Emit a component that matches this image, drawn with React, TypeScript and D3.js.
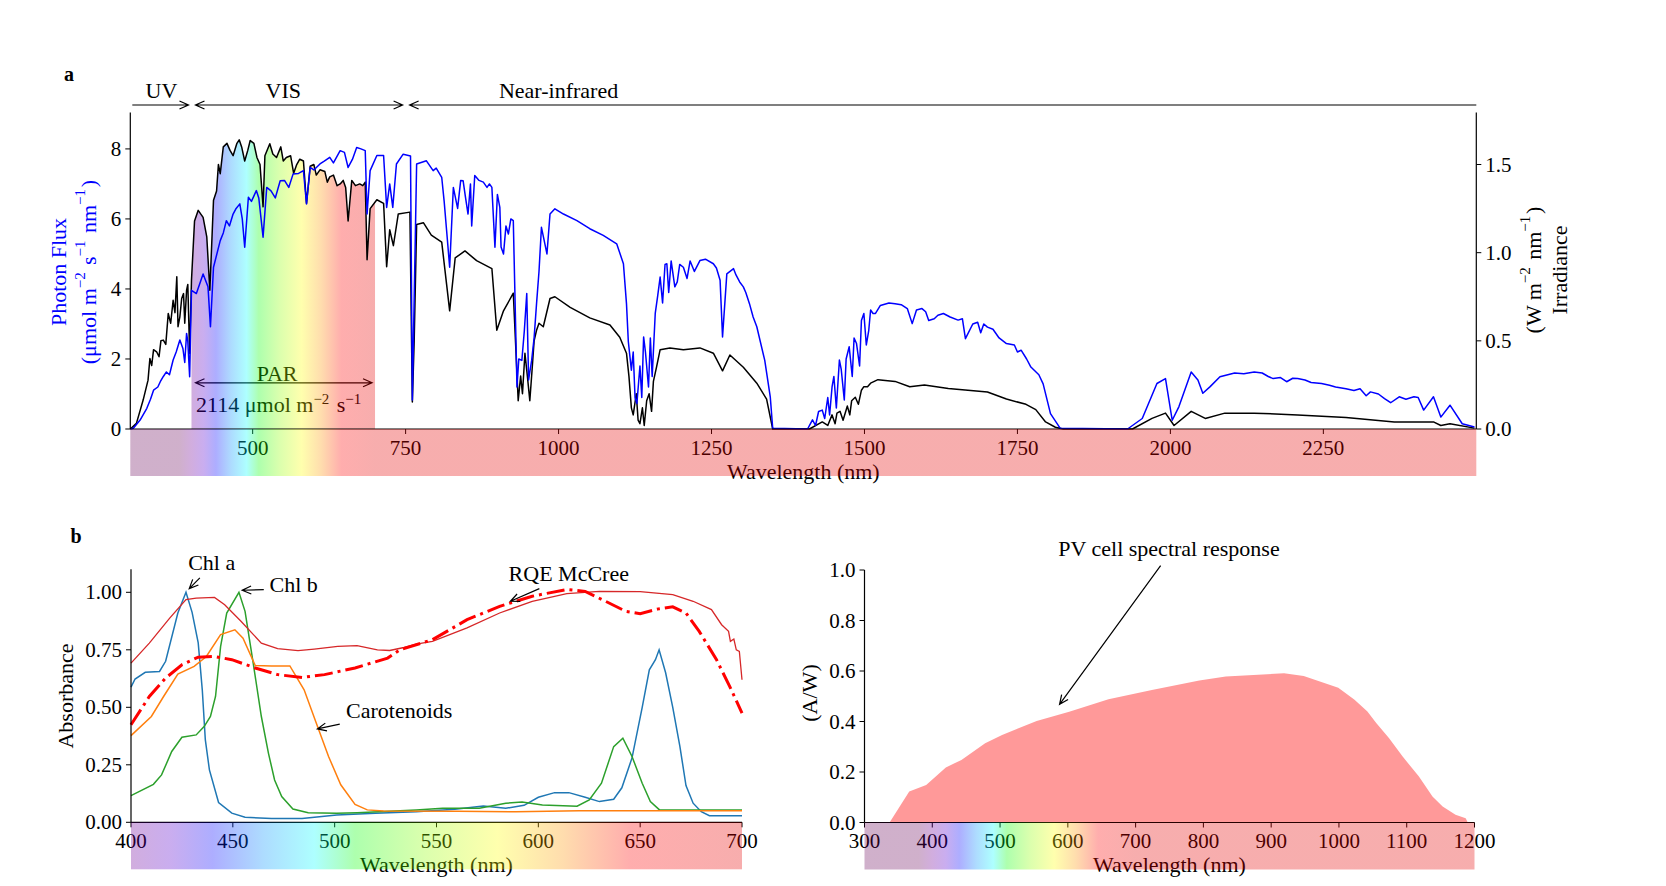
import React from "react";
import * as d3 from "d3";

type P = [number, number];

// ---- panel a: solar spectrum ----
// irradiance, W m-2 nm-1 (right axis)
const irradiance: P[] = [
  [300, 0], [310, 0.032], [321, 0.164], [329, 0.277], [332, 0.4], [335, 0.36], [338, 0.45],
  [343, 0.438], [347, 0.41], [350, 0.5], [354, 0.504], [358, 0.48], [362, 0.655], [366, 0.6],
  [370, 0.73], [373, 0.66], [376, 0.863], [378, 0.58], [381, 0.636], [384, 0.74], [387, 0.768],
  [389, 0.6], [392, 0.787], [394, 0.82], [397, 0.428], [400, 0.844], [405, 1.18], [411, 1.24],
  [419, 1.2], [425, 1.09], [430, 0.787], [436, 1.297], [441, 1.35], [444, 1.5], [447, 1.448],
  [452, 1.6], [458, 1.62], [463, 1.58], [468, 1.55], [474, 1.618], [478, 1.64], [482, 1.6],
  [487, 1.52], [492, 1.58], [496, 1.636], [502, 1.62], [507, 1.54], [512, 1.5], [517, 1.26],
  [520, 1.55], [528, 1.618], [533, 1.56], [539, 1.54], [546, 1.6], [550, 1.52], [555, 1.54],
  [562, 1.55], [567, 1.45], [572, 1.5], [577, 1.53], [583, 1.52], [588, 1.28], [594, 1.49],
  [600, 1.5], [604, 1.44], [610, 1.47], [618, 1.46], [622, 1.4], [626, 1.43], [632, 1.44],
  [638, 1.38], [643, 1.39], [648, 1.41], [652, 1.37], [656, 1.18], [662, 1.41], [668, 1.38],
  [675, 1.39], [680, 1.38], [684, 1.4], [687, 0.96], [692, 1.25], [703, 1.3], [714, 1.28],
  [719, 0.92], [724, 1.13], [730, 1.04], [738, 1.22], [757, 1.23], [761, 0.153], [764, 0.5],
  [768, 1.16], [779, 1.17], [792, 1.1], [809, 1.06], [817, 0.82], [822, 0.67], [831, 0.97],
  [847, 1.01], [866, 0.955], [891, 0.91], [899, 0.56], [910, 0.67], [926, 0.77], [934, 0.16],
  [938, 0.3], [941, 0.2], [945, 0.43], [949, 0.3], [953, 0.16], [957, 0.35], [960, 0.5],
  [964, 0.56], [968, 0.6], [975, 0.58], [986, 0.74], [994, 0.75], [1019, 0.69], [1051, 0.63],
  [1084, 0.59], [1100, 0.52], [1111, 0.43], [1115, 0.3], [1119, 0.12], [1122, 0.08],
  [1127, 0.2], [1130, 0.05], [1133, 0.03], [1137, 0.12], [1140, 0.02], [1144, 0.16],
  [1148, 0.2], [1152, 0.1], [1155, 0.27], [1160, 0.35], [1166, 0.45], [1182, 0.46],
  [1204, 0.45], [1231, 0.46], [1253, 0.43], [1268, 0.33], [1280, 0.42], [1302, 0.35],
  [1324, 0.26], [1340, 0.17], [1350, 0], [1410, 0], [1431, 0.04], [1440, 0.02], [1447, 0.08],
  [1452, 0.03], [1455, 0.09], [1460, 0.1], [1465, 0.05], [1472, 0.13], [1476, 0.08],
  [1479, 0.16], [1485, 0.18], [1490, 0.14], [1495, 0.22], [1499, 0.24], [1505, 0.24],
  [1510, 0.26], [1522, 0.28], [1550, 0.27], [1574, 0.24], [1598, 0.25], [1637, 0.23],
  [1669, 0.22], [1701, 0.21], [1732, 0.17], [1764, 0.14], [1780, 0.11], [1796, 0.04],
  [1812, 0.01], [1825, 0], [1938, 0], [1970, 0.06], [1992, 0.09], [2006, 0.02], [2034, 0.1],
  [2057, 0.06], [2089, 0.09], [2137, 0.09], [2208, 0.08], [2287, 0.065], [2366, 0.04],
  [2430, 0.04], [2442, 0.02], [2457, 0.03], [2497, 0.005],
];

// photon flux, umol m-2 s-1 nm-1 (left axis)
const photonFlux: P[] = [
  [300, 0], [305, 0.02], [316, 0.256], [327, 0.59], [333, 0.85], [338, 1.11], [345, 1.2],
  [349, 1.35], [354, 1.5], [359, 1.63], [364, 1.55], [370, 1.97], [375, 2.2], [381, 2.54],
  [386, 2.3], [389, 1.9], [392, 2.73], [394, 2.5], [397, 1.49], [400, 3.96], [408, 3.87],
  [419, 4.43], [427, 4.06], [431, 2.92], [436, 4.62], [447, 5.38], [452, 5.6], [457, 5.95],
  [462, 5.8], [468, 6.14], [473, 6.3], [479, 6.43], [483, 6.0], [487, 5.19], [493, 6.62],
  [498, 6.5], [506, 6.81], [510, 6.6], [517, 5.48], [523, 6.9], [530, 6.8], [537, 6.6],
  [545, 7.09], [552, 7.1], [559, 6.9], [566, 7.28], [575, 7.3], [583, 7.38], [588, 6.43],
  [594, 7.47], [600, 7.4], [610, 7.57], [617, 7.65], [626, 7.76], [632, 7.6], [643, 7.95],
  [650, 7.9], [656, 7.47], [663, 7.7], [670, 8.04], [677, 8.0], [684, 7.95], [687, 6.14],
  [692, 7.38], [703, 7.81], [714, 7.81], [719, 6.33], [724, 7.0], [729, 6.33], [735, 7.57],
  [746, 7.85], [758, 7.8], [761, 0.83], [768, 7.57], [784, 7.66], [795, 7.38], [800, 7.45],
  [809, 7.19], [813, 6.5], [817, 5.67], [822, 4.62], [828, 6.9], [835, 6.3], [840, 7.1],
  [844, 7.09], [848, 6.6], [852, 6.14], [856, 7.0], [858, 5.8], [863, 7.24], [870, 7.1],
  [877, 7.05], [883, 6.9], [887, 7.0], [891, 6.9], [896, 5.19], [900, 6.7], [904, 6.33],
  [906, 5.2], [910, 5.0], [914, 5.8], [918, 5.57], [922, 6.0], [926, 5.95], [932, 1.2],
  [935, 2.0], [940, 1.96], [944, 2.8], [948, 3.87], [951, 1.4], [956, 1.96], [960, 2.6],
  [964, 3.58], [968, 4.5], [972, 5.76], [981, 5.0], [986, 6.14], [994, 6.29], [1008, 6.14],
  [1030, 5.95], [1051, 5.72], [1073, 5.53], [1095, 5.29], [1106, 4.72], [1111, 3.58],
  [1114, 2.5], [1119, 1.68], [1122, 2.2], [1125, 0.9], [1128, 0.73], [1133, 1.8], [1136, 0.9],
  [1139, 2.63], [1142, 2.2], [1147, 1.2], [1150, 2.6], [1153, 1.5], [1158, 3.3], [1162, 3.8],
  [1166, 4.34], [1170, 3.6], [1174, 4.7], [1177, 4.72], [1180, 3.9], [1184, 4.8], [1190, 4.06],
  [1194, 4.2], [1198, 4.7], [1204, 4.62], [1210, 4.3], [1215, 4.8], [1222, 4.5], [1231, 4.81],
  [1240, 4.85], [1253, 4.72], [1258, 4.6], [1264, 4.25], [1268, 2.63], [1275, 4.43],
  [1286, 4.58], [1290, 4.4], [1296, 4.2], [1302, 4.06], [1306, 3.9], [1312, 3.58],
  [1318, 3.2], [1324, 2.92], [1337, 1.96], [1346, 0.92], [1350, 0.02], [1407, 0], [1415, 0.26],
  [1420, 0.1], [1425, 0.5], [1431, 0.54], [1435, 0.3], [1440, 0.9], [1443, 0.4], [1447, 1.2],
  [1450, 1.5], [1454, 0.6], [1459, 1.97], [1462, 1.7], [1467, 0.83], [1470, 2.0], [1475, 2.35],
  [1480, 1.5], [1483, 2.6], [1487, 2.44], [1492, 1.8], [1495, 3.1], [1499, 3.3], [1503, 2.4],
  [1507, 2.82], [1510, 3.4], [1514, 3.3], [1518, 3.3], [1526, 3.53], [1540, 3.6], [1550, 3.58],
  [1560, 3.55], [1570, 3.44], [1578, 3.01], [1585, 3.4], [1594, 3.44], [1600, 3.35],
  [1605, 3.1], [1614, 3.15], [1620, 3.25], [1629, 3.3], [1640, 3.2], [1653, 3.11],
  [1660, 3.15], [1665, 2.58], [1677, 3.0], [1685, 3.05], [1690, 2.75], [1695, 3.0],
  [1701, 2.91], [1710, 2.85], [1720, 2.6], [1732, 2.44], [1745, 2.4], [1750, 2.2],
  [1756, 2.25], [1765, 2.0], [1772, 1.77], [1785, 1.55], [1792, 1.29], [1804, 0.44],
  [1820, 0.02], [1930, 0], [1954, 0.3], [1978, 1.3], [1992, 1.44], [2003, 0.25], [2014, 0.64],
  [2034, 1.63], [2045, 1.4], [2053, 1.02], [2065, 1.21], [2081, 1.49], [2105, 1.6],
  [2120, 1.58], [2137, 1.63], [2150, 1.6], [2160, 1.5], [2168, 1.44], [2180, 1.47],
  [2190, 1.35], [2200, 1.45], [2208, 1.44], [2220, 1.4], [2230, 1.33], [2247, 1.3],
  [2260, 1.25], [2270, 1.2], [2287, 1.15], [2300, 1.1], [2310, 1.15], [2320, 0.95],
  [2327, 1.06], [2340, 1.0], [2350, 0.87], [2360, 0.75], [2374, 0.92], [2385, 0.85],
  [2398, 0.92], [2405, 0.9], [2414, 0.54], [2430, 0.92], [2442, 0.34], [2457, 0.68],
  [2477, 0.15], [2497, 0.06],
];

const fluxTicks = [0, 2, 4, 6, 8];
const irrTicks = [0, 0.5, 1.0, 1.5];
const wlTicksA = [500, 750, 1000, 1250, 1500, 1750, 2000, 2250];

// ---- panel b: pigment absorbance ----
const chlA: P[] = [
  [400, 0.588], [402, 0.623], [407, 0.652], [414, 0.656], [417, 0.7], [423, 0.91], [427, 1.0],
  [430, 0.913], [433, 0.78], [435, 0.576], [436.5, 0.358], [438.5, 0.228], [443, 0.086],
  [449.5, 0.04], [456, 0.022], [469, 0.016], [484, 0.017], [501, 0.032], [520, 0.039],
  [540, 0.046], [559, 0.057], [573, 0.071], [584, 0.061], [593, 0.074], [600, 0.109],
  [608, 0.129], [615, 0.129], [623, 0.109], [630, 0.09], [637, 0.1], [641, 0.15], [646, 0.28],
  [651, 0.5], [654.5, 0.663], [657.5, 0.707], [659.3, 0.75], [662.5, 0.65], [666, 0.5],
  [669.5, 0.33], [672.5, 0.16], [676, 0.083], [680, 0.046], [684, 0.029], [700, 0.028],
];
const chlB: P[] = [
  [400, 0.116], [411, 0.165], [415, 0.206], [420, 0.308], [425, 0.37], [432, 0.38],
  [436, 0.417], [439, 0.46], [441.5, 0.547], [444, 0.765], [447, 0.91], [453, 1.0],
  [456, 0.917], [460, 0.692], [464, 0.46], [467.5, 0.3], [470.5, 0.184], [474, 0.112],
  [479.5, 0.058], [487, 0.042], [501, 0.039], [511, 0.042], [540, 0.054], [553, 0.061],
  [571, 0.061], [584, 0.083], [592, 0.088], [602, 0.075], [619, 0.07], [625, 0.097],
  [631, 0.17], [637, 0.329], [641.5, 0.366], [646, 0.286], [651, 0.17], [655, 0.09],
  [659.5, 0.054], [700, 0.054],
];
const carotenoids: P[] = [
  [400, 0.377], [410, 0.46], [416, 0.547], [423, 0.644], [431, 0.678], [437, 0.721],
  [444, 0.816], [451, 0.837], [455, 0.8], [461, 0.682], [469, 0.68], [478, 0.68],
  [485, 0.576], [491, 0.431], [497, 0.286], [503, 0.163], [510, 0.078], [516, 0.054],
  [524, 0.049], [560, 0.048], [589, 0.046], [620, 0.05], [660, 0.05], [700, 0.05],
];
const leafAbs: P[] = [
  [400, 0.692], [409, 0.779], [419, 0.888], [427, 0.968], [432, 0.975], [441, 0.978],
  [446, 0.946], [454, 0.874], [464, 0.779], [472, 0.755], [482, 0.746], [490, 0.753],
  [501.5, 0.765], [511, 0.768], [521, 0.75], [527, 0.747], [534, 0.76], [540, 0.775],
  [548, 0.787], [565, 0.845], [581, 0.91], [597, 0.961], [614, 0.994], [630, 1.004],
  [650, 1.003], [666, 0.99], [676, 0.961], [685, 0.925], [690, 0.859], [693.4, 0.83],
  [694.3, 0.787], [696, 0.797], [697.2, 0.75], [698.7, 0.743], [700, 0.62],
];
const rqeMcCree: P[] = [
  [400, 0.424], [409, 0.547], [417, 0.627], [425, 0.685], [433, 0.718], [441, 0.721],
  [449.5, 0.707], [461, 0.671], [472, 0.642], [484, 0.63], [495, 0.642], [510, 0.671],
  [526, 0.714], [532, 0.75], [548, 0.794], [565, 0.881], [581, 0.939], [597, 0.983],
  [614, 1.012], [623, 1.004], [633, 0.961], [643, 0.917], [650, 0.907], [659, 0.928],
  [666, 0.937], [672.5, 0.91], [679, 0.83], [687.5, 0.707], [694, 0.59], [700, 0.475],
];
const absTicks = [0, 0.25, 0.5, 0.75, 1.0];
const wlTicksB = [400, 450, 500, 550, 600, 650, 700];

// ---- panel c: PV cell spectral response (A/W) ----
const pvResponse: P[] = [
  [337, 0], [366, 0.123], [391, 0.149], [420, 0.218], [443, 0.248], [478, 0.314],
  [503, 0.347], [554, 0.402], [602, 0.439], [660, 0.488], [724, 0.525], [794, 0.562],
  [833, 0.578], [919, 0.591], [948, 0.58], [999, 0.534], [1023, 0.486], [1042, 0.44],
  [1055, 0.394], [1074, 0.334], [1094, 0.261], [1118, 0.182], [1138, 0.103], [1153, 0.063],
  [1172, 0.031], [1187, 0.017], [1190, 0],
];
const pvTicks = [0, 0.2, 0.4, 0.6, 0.8, 1.0];
const wlTicksC = [300, 400, 500, 600, 700, 800, 900, 1000, 1100, 1200];

// wavelength -> colour stops for the spectrum strips
const spectrumStops: [number, number[]][] = [
  [300, [0.42, 0.03, 0.36]], [380, [0.42, 0.03, 0.36]], [400, [0.44, 0, 0.6]],
  [420, [0.34, 0, 0.81]], [440, [0, 0, 1]], [465, [0, 0.57, 1]], [490, [0, 1, 1]],
  [510, [0, 1, 0]], [545, [0.57, 1, 0]], [580, [1, 1, 0]], [612, [1, 0.58, 0]],
  [645, [1, 0, 0]], [700, [0.9, 0, 0]], [750, [0.9, 0, 0]],
];

const font = "'Liberation Serif', 'Times New Roman', serif";
const FS = 22;
const TFS = 21;
const SPEC_ALPHA = 0.32;

function arrowPath(x1: number, y1: number, x2: number, y2: number, start: boolean, end: boolean) {
  const dx = x2 - x1, dy = y2 - y1;
  const L = Math.hypot(dx, dy);
  const ux = dx / L, uy = dy / L;
  const head = (tx: number, ty: number, vx: number, vy: number) => {
    const bx = tx - vx * 9, by = ty - vy * 9;
    const px = -vy * 4, py = vx * 4;
    return `M${bx + px},${by + py}L${tx},${ty}L${bx - px},${by - py}`;
  };
  let d = `M${x1},${y1}L${x2},${y2}`;
  if (end) d += head(x2, y2, ux, uy);
  if (start) d += head(x1, y1, -ux, -uy);
  return d;
}

const Arrow = ({ x1, y1, x2, y2, start = false, end = true }: {
  x1: number; y1: number; x2: number; y2: number; start?: boolean; end?: boolean;
}) => (
  <path d={arrowPath(x1, y1, x2, y2, start, end)} fill="none" stroke="#000" strokeWidth={1.2} />
);

const Sup = ({ t }: { t: string }) => (
  <>
    <tspan dy={-8} fontSize={15}>{t}</tspan>
    <tspan dy={8}>{"\u200a"}</tspan>
  </>
);

const Spectrum = ({ id, x }: { id: string; x: d3.ScaleLinear<number, number> }) => (
  <linearGradient id={id} gradientUnits="userSpaceOnUse" x1={x(300)} x2={x(750)} y1={0} y2={0}>
    {spectrumStops.map(([nm, c]) => (
      <stop key={nm} offset={(nm - 300) / 450} stopColor={d3.rgb(c[0] * 255, c[1] * 255, c[2] * 255).formatHex()} />
    ))}
  </linearGradient>
);

const XTicks = ({ x, y0, ticks, fmt }: {
  x: d3.ScaleLinear<number, number>; y0: number; ticks: number[]; fmt: (v: number) => string;
}) => (
  <g>
    {ticks.map((t) => (
      <g key={t}>
        <line x1={x(t)} x2={x(t)} y1={y0} y2={y0 + 5} stroke="#000" strokeWidth={1} />
        <text x={x(t)} y={y0 + 25.5} textAnchor="middle" fontSize={TFS}>{fmt(t)}</text>
      </g>
    ))}
  </g>
);

const YTicks = ({ y, x0, ticks, fmt, right = false }: {
  y: d3.ScaleLinear<number, number>; x0: number; ticks: number[]; fmt: (v: number) => string; right?: boolean;
}) => (
  <g>
    {ticks.map((t) => (
      <g key={t}>
        <line x1={x0} x2={right ? x0 + 5 : x0 - 5} y1={y(t)} y2={y(t)} stroke="#000" strokeWidth={1} />
        <text x={right ? x0 + 9 : x0 - 9} y={y(t)} dy="0.34em" textAnchor={right ? "start" : "end"} fontSize={TFS}>
          {fmt(t)}
        </text>
      </g>
    ))}
  </g>
);

export default function App() {
  // panel a
  const xA = d3.scaleLinear().domain([300, 2500]).range([130.3, 1476.3]);
  const yA = d3.scaleLinear().domain([0, 9.04]).range([429, 112.5]);
  const yA2 = d3.scaleLinear().domain([0, 1.795]).range([429, 112.5]);
  // panel b
  const xB = d3.scaleLinear().domain([400, 700]).range([131, 742]);
  const yB = d3.scaleLinear().domain([0, 1.1]).range([822.3, 569.3]);
  // panel c
  const xC = d3.scaleLinear().domain([300, 1200]).range([864.5, 1474.5]);
  const yC = d3.scaleLinear().domain([0, 1]).range([822.5, 570]);

  const irrSorted = d3.sort(irradiance, (d) => d[0]);
  const fluxSorted = d3.sort(photonFlux, (d) => d[0]);

  const fluxLine = d3.line<P>().x((d) => xA(d[0])).y((d) => yA(d[1]));
  const irrLine = d3.line<P>().x((d) => xA(d[0])).y((d) => yA2(d[1]));
  const irrArea = d3.area<P>().x((d) => xA(d[0])).y0(yA2(0)).y1((d) => yA2(d[1]));
  const lineB = d3.line<P>().x((d) => xB(d[0])).y((d) => yB(d[1]));
  const areaC = d3.area<P>().x((d) => xC(d[0])).y0(yC(0)).y1((d) => yC(d[1]));

  const bandH = 47;
  const topY = 105;

  return (
    <svg width={1666} height={886} style={{ position: "absolute", left: 0, top: 0, background: "#fff" }}
      fontFamily={font} fill="#000">
      <defs>
        <Spectrum id="specA" x={xA} />
        <Spectrum id="specB" x={xB} />
        <Spectrum id="specC" x={xC} />
        <clipPath id="parClip">
          <rect x={xA(400)} y={100} width={xA(700) - xA(400)} height={330} />
        </clipPath>
      </defs>

      {/* ================= panel a ================= */}
      <text x={69} y={81} fontSize={20} fontWeight="bold" textAnchor="middle">a</text>

      {/* region arrows */}
      <Arrow x1={xA(300) + 2} y1={topY} x2={xA(400) - 3} y2={topY} />
      <Arrow x1={xA(400) + 4} y1={topY} x2={xA(750) - 3} y2={topY} start end />
      <Arrow x1={xA(750) + 4} y1={topY} x2={xA(2500)} y2={topY} start end={false} />
      <text x={xA(351)} y={98} fontSize={FS} textAnchor="middle">UV</text>
      <text x={xA(550)} y={98} fontSize={FS} textAnchor="middle">VIS</text>
      <text x={xA(1000)} y={98} fontSize={FS} textAnchor="middle">Near-infrared</text>

      {/* PAR annotation (under the rainbow fill) */}
      <Arrow x1={xA(400) + 4} y1={yA(1.32)} x2={xA(700) - 3} y2={yA(1.32)} start end />
      <text x={xA(540)} y={381} fontSize={FS} textAnchor="middle">PAR</text>
      <text x={xA(544)} y={412} fontSize={FS} textAnchor="middle">
        2114 μmol m<Sup t="−2" /> s<Sup t="−1" />
      </text>

      {/* rainbow fill under irradiance, PAR band */}
      <path d={irrArea(irrSorted) || ""} fill="url(#specA)" opacity={SPEC_ALPHA} clipPath="url(#parClip)" />

      <path d={irrLine(irrSorted) || ""} fill="none" stroke="#000" strokeWidth={1.5} strokeLinejoin="round" />
      <path d={fluxLine(fluxSorted) || ""} fill="none" stroke="#0000ff" strokeWidth={1.5} strokeLinejoin="round" />

      {/* axes a */}
      <line x1={xA(300)} x2={xA(300)} y1={112.5} y2={429} stroke="#000" strokeWidth={1.2} />
      <line x1={xA(2500)} x2={xA(2500)} y1={112.5} y2={429} stroke="#000" strokeWidth={1.2} />
      <line x1={xA(300)} x2={xA(2500)} y1={429} y2={429} stroke="#000" strokeWidth={1.2} />
      <YTicks y={yA} x0={xA(300)} ticks={fluxTicks} fmt={(v) => String(v)} />
      <YTicks y={yA2} x0={xA(2500)} ticks={irrTicks} fmt={(v) => v.toFixed(1)} right />
      <XTicks x={xA} y0={429} ticks={wlTicksA} fmt={(v) => String(v)} />
      <text x={(xA(300) + xA(2500)) / 2} y={479} fontSize={FS} textAnchor="middle">Wavelength (nm)</text>

      <g fill="#0000ff" fontSize={FS}>
        <text transform="translate(58,272) rotate(-90)" textAnchor="middle" dominantBaseline="central">Photon Flux</text>
        <text transform="translate(88,272) rotate(-90)" textAnchor="middle" dominantBaseline="central">
          (μmol m<Sup t="−2" /> s<Sup t="−1" /> nm<Sup t="−1" />)
        </text>
      </g>
      <g fontSize={FS}>
        <text transform="translate(1533,270) rotate(-90)" textAnchor="middle" dominantBaseline="central">
          (W m<Sup t="−2" /> nm<Sup t="−1" />)
        </text>
        <text transform="translate(1559,270) rotate(-90)" textAnchor="middle" dominantBaseline="central">Irradiance</text>
      </g>

      <rect x={xA(300)} y={429} width={xA(2500) - xA(300)} height={bandH} fill="url(#specA)" opacity={SPEC_ALPHA} />

      {/* ================= panel b ================= */}
      <text x={76} y={543} fontSize={20} fontWeight="bold" textAnchor="middle">b</text>

      <path d={lineB(chlA) || ""} fill="none" stroke="#1f77b4" strokeWidth={1.5} />
      <path d={lineB(chlB) || ""} fill="none" stroke="#2ca02c" strokeWidth={1.5} />
      <path d={lineB(carotenoids) || ""} fill="none" stroke="#ff7f0e" strokeWidth={1.5} />
      <path d={lineB(leafAbs) || ""} fill="none" stroke="#d62728" strokeWidth={1.3} />
      <path d={lineB(rqeMcCree) || ""} fill="none" stroke="#ff0000" strokeWidth={3} strokeDasharray="18 5 3 5" />

      <text x={211.7} y={570} fontSize={FS} textAnchor="middle">Chl a</text>
      <Arrow x1={xB(433.8)} y1={yB(1.063)} x2={xB(428.6)} y2={yB(1.016)} />
      <text x={269.5} y={592} fontSize={FS}>Chl b</text>
      <Arrow x1={xB(465.2)} y1={yB(1.012)} x2={xB(454.6)} y2={yB(1.009)} />
      <text x={346} y={718} fontSize={FS}>Carotenoids</text>
      <Arrow x1={xB(502.5)} y1={yB(0.427)} x2={xB(491.5)} y2={yB(0.406)} />
      <text x={568.8} y={581} fontSize={FS} textAnchor="middle">RQE McCree</text>
      <Arrow x1={xB(600.5)} y1={yB(1.016)} x2={xB(586.3)} y2={yB(0.961)} />

      <line x1={xB(400)} x2={xB(400)} y1={569.3} y2={822.3} stroke="#000" strokeWidth={1.2} />
      <line x1={xB(400)} x2={xB(700)} y1={822.3} y2={822.3} stroke="#000" strokeWidth={1.2} />
      <YTicks y={yB} x0={xB(400)} ticks={absTicks} fmt={(v) => v.toFixed(2)} />
      <XTicks x={xB} y0={822.3} ticks={wlTicksB} fmt={(v) => String(v)} />
      <text x={(xB(400) + xB(700)) / 2} y={872} fontSize={FS} textAnchor="middle">Wavelength (nm)</text>
      <text transform="translate(65,696) rotate(-90)" fontSize={FS} textAnchor="middle" dominantBaseline="central">Absorbance</text>

      <rect x={xB(400)} y={822.3} width={xB(700) - xB(400)} height={bandH} fill="url(#specB)" opacity={SPEC_ALPHA} />

      {/* ================= panel c ================= */}
      <path d={areaC(pvResponse) || ""} fill="#ff9999" />
      <text x={1169} y={556} fontSize={FS} textAnchor="middle">PV cell spectral response</text>
      <Arrow x1={xC(736.9)} y1={yC(1.017)} x2={xC(587.8)} y2={yC(0.468)} />

      <line x1={xC(300)} x2={xC(300)} y1={570} y2={822.5} stroke="#000" strokeWidth={1.2} />
      <line x1={xC(300)} x2={xC(1200)} y1={822.5} y2={822.5} stroke="#000" strokeWidth={1.2} />
      <YTicks y={yC} x0={xC(300)} ticks={pvTicks} fmt={(v) => v.toFixed(1)} />
      <XTicks x={xC} y0={822.5} ticks={wlTicksC} fmt={(v) => String(v)} />
      <text x={(xC(300) + xC(1200)) / 2} y={872} fontSize={FS} textAnchor="middle">Wavelength (nm)</text>
      <text transform="translate(809,693) rotate(-90)" fontSize={FS} textAnchor="middle" dominantBaseline="central">(A/W)</text>

      <rect x={xC(300)} y={822.5} width={xC(1200) - xC(300)} height={bandH} fill="url(#specC)" opacity={SPEC_ALPHA} />
    </svg>
  );
}
